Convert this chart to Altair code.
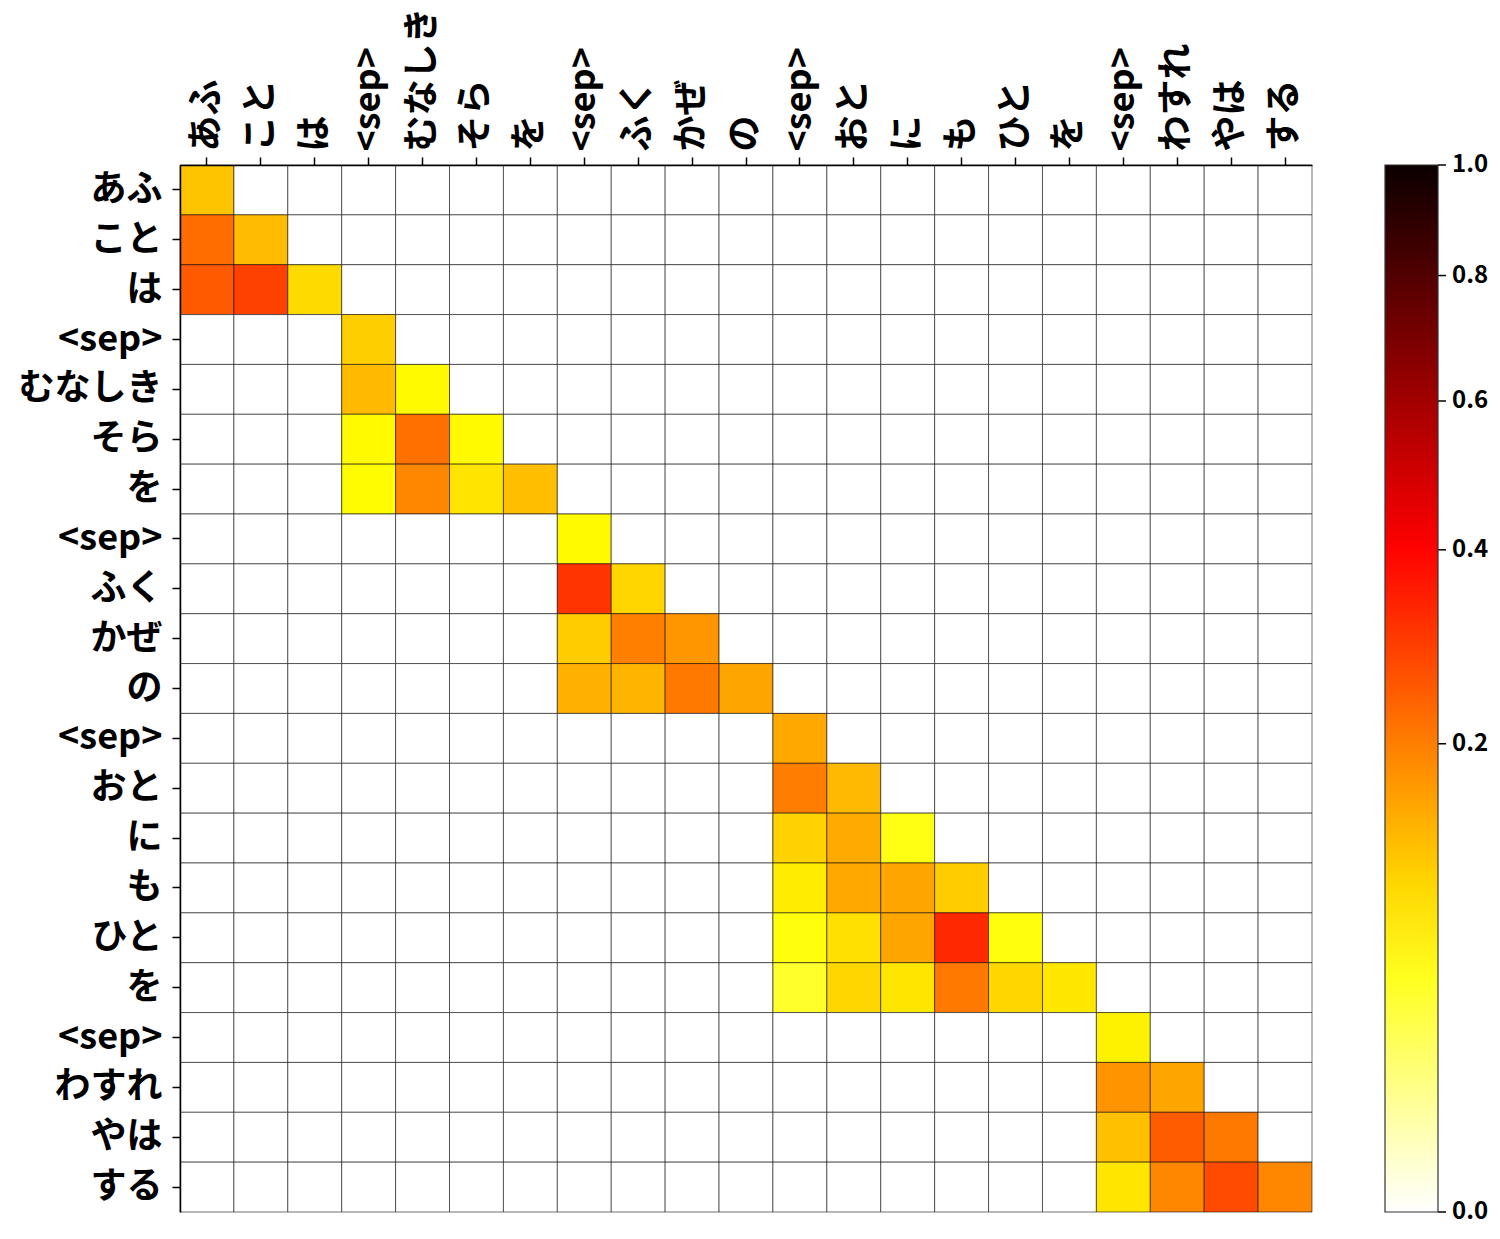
import altair as alt
import pandas as pd

labels = ["あふ", "こと", "は", "<sep>", "むなしき", "そら", "を", "<sep>", "ふく", "かぜ", "の",
          "<sep>", "おと", "に", "も", "ひと", "を", "<sep>", "わすれ", "やは", "する"]

# attention weights, one row per target token (rows), columns = source tokens
Z = [0.0] * 21
matrix = [
    [0.117] + Z[1:],
    [0.224, 0.125] + Z[2:],
    [0.250, 0.290, 0.096] + Z[3:],
    Z[:3] + [0.107] + Z[4:],
    Z[:3] + [0.127, 0.068] + Z[5:],
    Z[:3] + [0.068, 0.219, 0.068] + Z[6:],
    Z[:3] + [0.067, 0.188, 0.087, 0.123] + Z[7:],
    Z[:7] + [0.068] + Z[8:],
    Z[:7] + [0.310, 0.099] + Z[9:],
    Z[:7] + [0.109, 0.197, 0.169] + Z[10:],
    Z[:7] + [0.138, 0.134, 0.208, 0.151] + Z[11:],
    Z[:11] + [0.148] + Z[12:],
    Z[:11] + [0.201, 0.129] + Z[13:],
    Z[:11] + [0.103, 0.145, 0.055] + Z[14:],
    Z[:11] + [0.080, 0.148, 0.151, 0.109] + Z[15:],
    Z[:11] + [0.058, 0.090, 0.151, 0.331, 0.058] + Z[16:],
    Z[:11] + [0.044, 0.099, 0.085, 0.208, 0.099, 0.084] + Z[17:],
    Z[:17] + [0.075] + Z[18:],
    Z[:17] + [0.171, 0.151] + Z[19:],
    Z[:17] + [0.121, 0.248, 0.208] + Z[20:],
    Z[:17] + [0.085, 0.188, 0.274, 0.188],
]

colorbar_ticks = [0.0, 0.2, 0.4, 0.6, 0.8, 1.0]

rows = []
for i, r in enumerate(matrix):
    for j, v in enumerate(r):
        rows.append({"row": i, "col": j, "value": v})
df = pd.DataFrame(rows)
ticks_df = pd.DataFrame({"v": colorbar_ticks})

label_js = "[" + ",".join("'" + s + "'" for s in labels) + "]"
expr = label_js + "[datum.value]"

FONT = "Noto Sans CJK JP"

heat = alt.Chart(df).mark_rect(stroke="#000000", strokeWidth=0.7, strokeOpacity=0.8).encode(
    x=alt.X("col:O", sort=None,
            axis=alt.Axis(orient="top", labelAngle=-90, labelExpr=expr, title=None,
                          labelFont=FONT, labelFontWeight="bold", labelFontSize=36,
                          labelColor="#000", tickColor="#000", tickSize=8, tickWidth=1.5,
                          domainColor="#000", domainWidth=1.5, labelPadding=6)),
    y=alt.Y("row:O", sort=None,
            axis=alt.Axis(labelExpr=expr, title=None,
                          labelFont=FONT, labelFontWeight="bold", labelFontSize=36,
                          labelColor="#000", tickColor="#000", tickSize=8, tickWidth=1.5,
                          domainColor="#000", domainWidth=1.5, labelPadding=10)),
    color=alt.Color("value:Q",
                    scale=alt.Scale(type="sqrt", domain=[0, 0.064516, 0.403125, 1.0],
                                    range=["#ffffff", "#ffff00", "#ff0000", "#0b0000"],
                                    interpolate="rgb"),
                    legend=alt.Legend(orient="none", legendX=1205, legendY=0, title=None,
                                      direction="vertical", gradientLength=1047,
                                      gradientThickness=53, values=colorbar_ticks,
                                      labelExpr="''", labelOpacity=0,
                                      gradientStrokeColor="#333",
                                      gradientStrokeWidth=1.2)),
)

cbar_ticks = alt.Chart(ticks_df).mark_rule(color="#000", strokeWidth=1.5).encode(
    x=alt.value(1258), x2=alt.value(1266),
    y=alt.Y("v:Q", scale=alt.Scale(type="sqrt", domain=[0, 1]), axis=None),
)

cbar_labels = alt.Chart(ticks_df).mark_text(
    align="left", baseline="middle", font=FONT, fontWeight="bold", fontSize=24, color="#000"
).encode(
    x=alt.value(1272),
    y=alt.Y("v:Q", scale=alt.Scale(type="sqrt", domain=[0, 1]), axis=None),
    text=alt.Text("v:Q", format=".1f"),
)

chart = alt.layer(heat, cbar_ticks, cbar_labels).resolve_scale(y="independent").properties(
    width=1132, height=1047,
    autosize=alt.AutoSizeParams(type="none"),
    padding={"left": 172, "top": 157, "right": 180, "bottom": 20},
).configure_view(stroke=None).configure_scale(bandPaddingInner=0, bandPaddingOuter=0)

chart.save("out.html", embed_options={"renderer": "svg", "actions": False})
